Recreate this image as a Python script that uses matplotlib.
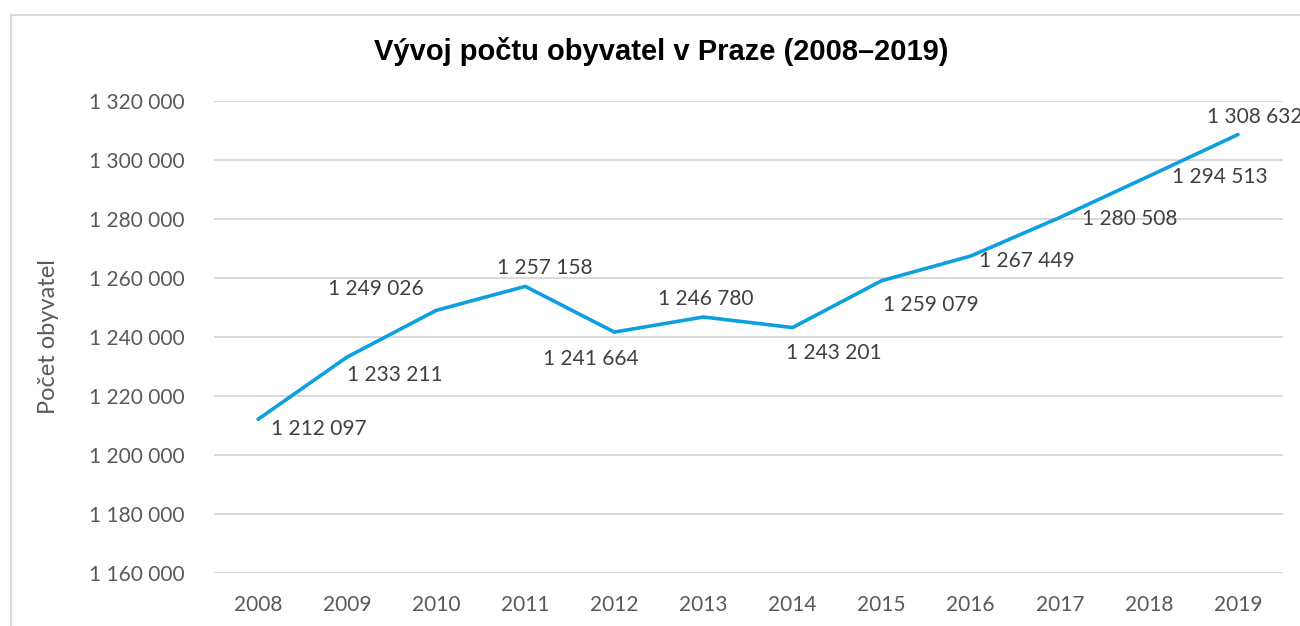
import matplotlib
matplotlib.use("Agg")
import matplotlib.pyplot as plt
from matplotlib.patches import Rectangle
from matplotlib.ticker import FuncFormatter

years = [2008, 2009, 2010, 2011, 2012, 2013, 2014, 2015, 2016, 2017, 2018, 2019]
population = [1212097, 1233211, 1249026, 1257158, 1241664, 1246780,
              1243201, 1259079, 1267449, 1280508, 1294513, 1308632]
title = "Vývoj počtu obyvatel v Praze (2008–2019)"
ylabel = "Počet obyvatel"

# label offsets in pixels (dx right, dy up) relative to each point
label_offsets = [(61, -10), (48, -18), (-60, 21), (19, 18), (-24, -27), (2, 18),
                 (41, -25), (49, -24), (56, -5), (70, -1), (71, -1), (17, 18)]

W, H = 1300, 626
fig = plt.figure(figsize=(W / 100, H / 100), dpi=100)
fig.patch.set_facecolor("white")

# outer chart frame
fig.patches.append(Rectangle((10.5 / W, -0.1), 1.2, (H - 14.5) / H + 0.1,
                             transform=fig.transFigure, fill=False,
                             edgecolor="#d9d9d9", linewidth=1.5, zorder=0))

left, right, top, bottom = 213.5, 1282.5, 101, 573
ax = fig.add_axes([left / W, (H - bottom) / H, (right - left) / W, (bottom - top) / H])

x = list(range(len(years)))
ax.plot(x, population, color="#0d9fe0", linewidth=2.6, solid_capstyle="round",
        solid_joinstyle="round", zorder=3, clip_on=False)

ax.set_xlim(-0.5, len(years) - 0.5)
ax.set_ylim(1160000, 1320000)
ax.set_yticks(range(1160000, 1320001, 20000))
ax.set_xticks(x)
ax.set_xticklabels([str(y) for y in years])

fmt = FuncFormatter(lambda v, p: f"{int(v):,}".replace(",", " "))
ax.yaxis.set_major_formatter(fmt)

FS = 15
for lab in ax.get_xticklabels() + ax.get_yticklabels():
    lab.set_fontfamily("Lato")
    lab.set_fontsize(FS)
    lab.set_color("#595959")

ax.tick_params(axis="both", length=0)
ax.tick_params(axis="y", pad=21)
ax.tick_params(axis="x", pad=16)

ax.grid(axis="y", color="#d9d9d9", linewidth=1.4)
ax.set_axisbelow(True)
for s in ax.spines.values():
    s.set_visible(False)

ax.set_ylabel(ylabel, fontfamily="Lato", fontsize=17, color="#595959")
ax.yaxis.set_label_coords((59 - left) / (right - left), 0.5)

for xi, val, (dx, dy) in zip(x, population, label_offsets):
    ax.annotate(f"{val:,}".replace(",", " "), (xi, val), xytext=(dx, dy),
                textcoords="offset pixels", ha="center", va="center",
                fontfamily="Lato", fontsize=FS, color="#404040",
                annotation_clip=False)

fig.text(661 / W, 1 - 52 / H, title, ha="center", va="center",
         fontfamily="Liberation Sans", fontweight="bold", fontsize=21, color="black")

fig.savefig("out.png", dpi=100)
